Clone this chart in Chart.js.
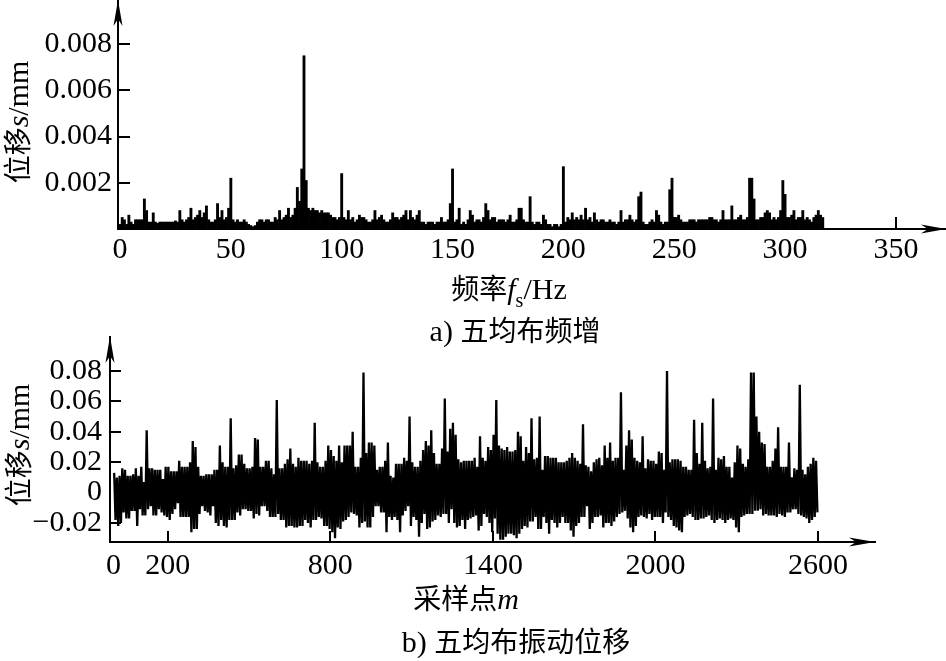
<!DOCTYPE html>
<html lang="zh-CN">
<head>
    <meta charset="UTF-8">
    <title>五均布频谱与振动位移</title>
    <script src="https://cdn.jsdelivr.net/npm/chart.js"></script>
    <style>
        body {
            margin: 0;
            background: #fff;
        }
        #wrap {
            position: relative;
            width: 946px;
            height: 661px;
            overflow: hidden;
        }
        canvas {
            position: absolute;
            left: 0;
        }
        .lbl {
            position: absolute;
            font-family: "Noto Sans CJK SC", sans-serif;
            font-size: 28px;
            line-height: 1;
            color: #000;
            white-space: nowrap;
            transform: translate(-50%, -50%);
        }
        .vert {
            transform: translate(-50%, -50%) rotate(-90deg);
        }
        .rm {
            font-family: "Liberation Serif", serif;
            font-size: 30px;
        }
        .it {
            font-family: "Liberation Serif", serif;
            font-style: italic;
            font-size: 30px;
        }
        .sub {
            font-family: "Liberation Serif", serif;
            font-size: 20px;
            position: relative;
            top: 8px;
        }
    </style>
</head>
<body>
    <div id="wrap">
        <canvas id="specChart" width="946" height="300" style="top:0"></canvas>
        <canvas id="dispChart" width="946" height="290" style="top:330px"></canvas>

        <div class="lbl vert" style="left:17px;top:122px">位移<span class="it">s</span><span class="rm">/mm</span></div>
        <div class="lbl" style="left:509px;top:288px">频率<span class="it">f</span><span class="sub">s</span><span class="rm">/Hz</span></div>
        <div class="lbl" style="left:515px;top:330px"><span class="rm">a) </span>五均布频增</div>

        <div class="lbl vert" style="left:18px;top:445px">位移<span class="it">s</span><span class="rm">/mm</span></div>
        <div class="lbl" style="left:466px;top:598px">采样点<span class="it">m</span></div>
        <div class="lbl" style="left:516px;top:641px"><span class="rm">b) </span>五均布振动位移</div>
    </div>

    <script>
        // a) 频谱: 1 Hz 一个值, 从 0 Hz 开始 (mm)
        const freqStepHz = 1;
        const specAmp = [
            0.0002, 0.0005, 0.0004, 0.0002, 0.0006, 0.0003, 0.0002, 0.0004, 0.0004, 0.0004,
            0.0004, 0.0013, 0.0008, 0.0003, 0.0003, 0.0007, 0.0003, 0.00025, 0.0003, 0.0003,
            0.0003, 0.0003, 0.0003, 0.0003, 0.0003, 0.00035, 0.0003, 0.0008, 0.0004, 0.0003,
            0.0004, 0.0005, 0.0009, 0.0004, 0.0005, 0.0006, 0.0008, 0.0005, 0.0007, 0.0010,
            0.0004, 0.0003, 0.0003, 0.0004, 0.0011, 0.0005, 0.0008, 0.0004, 0.0005, 0.0009,
            0.0022, 0.0004, 0.0003, 0.0004, 0.0003, 0.0003, 0.0004, 0.0003, 0.0002, 0.00015,
            0.0001, 0.00015, 0.0003, 0.0004, 0.0004, 0.0003, 0.0004, 0.0004, 0.0003, 0.0003,
            0.0005, 0.0004, 0.0008, 0.0004, 0.0005, 0.0006, 0.0009, 0.0005, 0.0006, 0.0009,
            0.0018, 0.0012, 0.0026, 0.0075, 0.0021, 0.0009, 0.0008, 0.0009, 0.0008, 0.0008,
            0.0007, 0.0008, 0.0007, 0.0007, 0.0007, 0.0006, 0.0005, 0.0005, 0.0004, 0.0005,
            0.0024, 0.0005, 0.0004, 0.0008, 0.0004, 0.0005, 0.0003, 0.0004, 0.0006, 0.0005,
            0.0005, 0.0004, 0.0003, 0.0003, 0.0004, 0.0008, 0.0004, 0.0005, 0.0006, 0.0004,
            0.0003, 0.0003, 0.0004, 0.0007, 0.0005, 0.0005, 0.0004, 0.0005, 0.0006, 0.0008,
            0.0004, 0.0008, 0.0005, 0.0004, 0.0006, 0.0008, 0.0003, 0.0003, 0.0002, 0.0003,
            0.0003, 0.0003, 0.0002, 0.0003, 0.0003, 0.0005, 0.0003, 0.0003, 0.0004, 0.0011,
            0.0026, 0.0003, 0.0004, 0.0009, 0.0002, 0.0003, 0.0002, 0.0004, 0.0008, 0.0006,
            0.0003, 0.0004, 0.0004, 0.0003, 0.0005, 0.0011, 0.0008, 0.0004, 0.0005, 0.0005,
            0.0003, 0.0004, 0.0004, 0.0004, 0.0003, 0.0004, 0.0006, 0.0003, 0.0003, 0.0004,
            0.0009, 0.0009, 0.0004, 0.0003, 0.0003, 0.0014, 0.0003, 0.0002, 0.0003, 0.0003,
            0.0002, 0.0006, 0.0004, 0.0002, 0.0002, 0.0001, 0.0002, 0.0002, 0.0001, 0.0002,
            0.0027, 0.0003, 0.0005, 0.0004, 0.0007, 0.0004, 0.0005, 0.0004, 0.0006, 0.0004,
            0.0009, 0.0004, 0.0005, 0.0003, 0.0007, 0.0004, 0.0003, 0.0004, 0.0004, 0.0003,
            0.0003, 0.0004, 0.0003, 0.0003, 0.0002, 0.0003, 0.0008, 0.0003, 0.0004, 0.0004,
            0.0006, 0.0004, 0.0003, 0.0004, 0.0014, 0.0016, 0.0003, 0.0002, 0.0002, 0.0003,
            0.0004, 0.0003, 0.0008, 0.0006, 0.0003, 0.0002, 0.0003, 0.0003, 0.0017, 0.0022,
            0.0004, 0.0005, 0.0006, 0.0004, 0.0003, 0.0003, 0.0003, 0.0004, 0.0004, 0.0004,
            0.0003, 0.0004, 0.0004, 0.0004, 0.0004, 0.0004, 0.0005, 0.0005, 0.0004, 0.0004,
            0.0003, 0.0004, 0.0008, 0.0004, 0.0004, 0.0004, 0.0010, 0.0004, 0.0004, 0.0005,
            0.0006, 0.0004, 0.0004, 0.0005, 0.0022, 0.0022, 0.0013, 0.0004, 0.0004, 0.0005,
            0.0005, 0.0007, 0.0008, 0.0007, 0.0004, 0.0005, 0.0004, 0.0005, 0.0008, 0.0021,
            0.0015, 0.0005, 0.0005, 0.0006, 0.0008, 0.0004, 0.0005, 0.0005, 0.0008, 0.0004,
            0.0005, 0.0004, 0.0003, 0.0005, 0.0006, 0.0008, 0.0006, 0.0005
        ];
        const specFreqTicks = [0, 50, 100, 150, 200, 250, 300, 350];
        const specAmpTicks = [0.002, 0.004, 0.006, 0.008];

        // b) 振动位移: 每 10 个采样点取上下包络 (mm)
        const binSize = 10;
        const dispHigh = [
            0.013, 0.010, 0.011, 0.016, 0.015, 0.011, 0.011, 0.012, 0.016, 0.011,
            0.017, 0.007, 0.041, 0.016, 0.016, 0.015, 0.015, 0.015, 0.009, 0.017,
            0.017, 0.014, 0.014, 0.014, 0.021, 0.017, 0.017, 0.017, 0.020, 0.034,
            0.030, 0.017, 0.011, 0.011, 0.012, 0.012, 0.012, 0.015, 0.015, 0.031,
            0.020, 0.017, 0.017, 0.049, 0.016, 0.018, 0.025, 0.025, 0.019, 0.016,
            0.016, 0.017, 0.036, 0.035, 0.017, 0.017, 0.021, 0.021, 0.016, 0.012,
            0.061, 0.016, 0.016, 0.019, 0.022, 0.029, 0.019, 0.017, 0.023, 0.021,
            0.021, 0.021, 0.019, 0.021, 0.046, 0.020, 0.017, 0.017, 0.021, 0.031,
            0.028, 0.024, 0.021, 0.031, 0.020, 0.031, 0.031, 0.031, 0.040, 0.017,
            0.017, 0.023, 0.079, 0.026, 0.033, 0.033, 0.031, 0.015, 0.017, 0.017,
            0.021, 0.033, 0.011, 0.010, 0.019, 0.019, 0.019, 0.023, 0.021, 0.050,
            0.020, 0.017, 0.017, 0.021, 0.028, 0.034, 0.031, 0.041, 0.026, 0.019,
            0.019, 0.029, 0.062, 0.027, 0.042, 0.046, 0.038, 0.022, 0.020, 0.021,
            0.021, 0.021, 0.021, 0.023, 0.017, 0.037, 0.023, 0.021, 0.030, 0.028,
            0.038, 0.061, 0.031, 0.029, 0.028, 0.030, 0.027, 0.027, 0.028, 0.040,
            0.037, 0.021, 0.030, 0.026, 0.049, 0.022, 0.023, 0.050, 0.015, 0.024,
            0.024, 0.023, 0.023, 0.023, 0.020, 0.020, 0.020, 0.021, 0.023, 0.026,
            0.023, 0.021, 0.019, 0.045, 0.018, 0.017, 0.014, 0.020, 0.022, 0.023,
            0.018, 0.031, 0.023, 0.033, 0.021, 0.023, 0.023, 0.066, 0.015, 0.031,
            0.041, 0.035, 0.023, 0.021, 0.020, 0.037, 0.016, 0.022, 0.021, 0.021,
            0.019, 0.027, 0.026, 0.015, 0.080, 0.020, 0.022, 0.022, 0.022, 0.021,
            0.017, 0.017, 0.015, 0.015, 0.048, 0.026, 0.019, 0.046, 0.021, 0.016,
            0.017, 0.062, 0.015, 0.023, 0.022, 0.024, 0.017, 0.017, 0.010, 0.020,
            0.031, 0.029, 0.019, 0.017, 0.022, 0.079, 0.079, 0.050, 0.040, 0.033,
            0.032, 0.017, 0.017, 0.021, 0.029, 0.043, 0.017, 0.017, 0.017, 0.033,
            0.010, 0.016, 0.015, 0.071, 0.015, 0.012, 0.017, 0.019, 0.023, 0.021
        ];
        const dispLow = [
            -0.018, -0.022, -0.020, -0.013, -0.017, -0.017, -0.012, -0.012, -0.022, -0.011,
            -0.015, -0.015, -0.011, -0.009, -0.015, -0.015, -0.011, -0.013, -0.015, -0.016,
            -0.018, -0.014, -0.011, -0.007, -0.016, -0.016, -0.016, -0.016, -0.026, -0.024,
            -0.024, -0.014, -0.009, -0.012, -0.013, -0.015, -0.009, -0.020, -0.022, -0.018,
            -0.022, -0.023, -0.018, -0.018, -0.018, -0.013, -0.015, -0.011, -0.011, -0.012,
            -0.012, -0.017, -0.014, -0.015, -0.009, -0.009, -0.012, -0.016, -0.016, -0.016,
            -0.014, -0.018, -0.018, -0.023, -0.022, -0.022, -0.023, -0.023, -0.022, -0.022,
            -0.018, -0.020, -0.023, -0.018, -0.018, -0.016, -0.017, -0.022, -0.022, -0.024,
            -0.026, -0.030, -0.023, -0.024, -0.019, -0.018, -0.016, -0.013, -0.014, -0.015,
            -0.023, -0.020, -0.019, -0.023, -0.023, -0.016, -0.009, -0.009, -0.013, -0.013,
            -0.026, -0.016, -0.018, -0.016, -0.018, -0.026, -0.015, -0.012, -0.009, -0.022,
            -0.016, -0.018, -0.029, -0.020, -0.014, -0.024, -0.023, -0.019, -0.018, -0.015,
            -0.016, -0.014, -0.014, -0.020, -0.011, -0.020, -0.023, -0.022, -0.018, -0.024,
            -0.018, -0.017, -0.016, -0.015, -0.025, -0.022, -0.014, -0.016, -0.020, -0.026,
            -0.017, -0.027, -0.031, -0.031, -0.029, -0.027, -0.027, -0.028, -0.030, -0.027,
            -0.024, -0.022, -0.023, -0.019, -0.019, -0.016, -0.024, -0.024, -0.016, -0.020,
            -0.027, -0.018, -0.020, -0.023, -0.020, -0.016, -0.020, -0.020, -0.025, -0.029,
            -0.022, -0.020, -0.016, -0.016, -0.009, -0.024, -0.020, -0.016, -0.016, -0.015,
            -0.023, -0.020, -0.020, -0.022, -0.019, -0.016, -0.014, -0.013, -0.012, -0.017,
            -0.023, -0.026, -0.022, -0.016, -0.015, -0.016, -0.017, -0.014, -0.018, -0.016,
            -0.016, -0.016, -0.020, -0.013, -0.016, -0.018, -0.022, -0.023, -0.025, -0.026,
            -0.016, -0.015, -0.014, -0.016, -0.018, -0.018, -0.017, -0.017, -0.016, -0.015,
            -0.018, -0.020, -0.018, -0.017, -0.018, -0.020, -0.018, -0.017, -0.018, -0.023,
            -0.026, -0.016, -0.015, -0.014, -0.014, -0.014, -0.012, -0.012, -0.011, -0.015,
            -0.014, -0.015, -0.015, -0.015, -0.016, -0.014, -0.015, -0.016, -0.013, -0.013,
            -0.011, -0.011, -0.014, -0.015, -0.016, -0.017, -0.020, -0.018, -0.016, -0.013
        ];
        const dispSampleTicks = [0, 200, 800, 1400, 2000, 2600];
        const dispTicks = [-0.02, 0, 0.02, 0.04, 0.06, 0.08];

        Chart.defaults.font.family = '"Liberation Serif", serif';
        Chart.defaults.color = '#000';

        // 坐标轴内侧刻度 + 箭头
        const axisDeco = {
            id: 'axisDeco',
            afterDraw(chart, args, opts) {
                const {ctx, chartArea: a, scales: {x, y}} = chart;
                ctx.save();
                ctx.strokeStyle = '#000';
                ctx.lineWidth = 2;
                ctx.beginPath();
                x.ticks.forEach(t => {
                    if (t.value === 0) return;
                    const px = Math.round(x.getPixelForValue(t.value));
                    ctx.moveTo(px, a.bottom);
                    ctx.lineTo(px, a.bottom - opts.tick);
                });
                y.ticks.forEach(t => {
                    if (t.value === 0) return;
                    const py = Math.round(y.getPixelForValue(t.value));
                    ctx.moveTo(a.left, py);
                    ctx.lineTo(a.left + opts.tick, py);
                });
                ctx.stroke();

                ctx.fillStyle = '#000';
                const L = opts.arrow, W = 4.5;
                // y 轴箭头
                ctx.beginPath();
                ctx.moveTo(a.left, a.top - 1);
                ctx.lineTo(a.left - W, a.top + L);
                ctx.lineTo(a.left, a.top + L - 7);
                ctx.lineTo(a.left + W, a.top + L);
                ctx.closePath();
                ctx.fill();
                // x 轴箭头
                ctx.beginPath();
                ctx.moveTo(a.right, a.bottom);
                ctx.lineTo(a.right - L, a.bottom - W);
                ctx.lineTo(a.right - L + 7, a.bottom);
                ctx.lineTo(a.right - L, a.bottom + W);
                ctx.closePath();
                ctx.fill();
                ctx.restore();
            }
        };

        const tickFont = {size: 30, family: '"Liberation Serif", serif'};

        // 固定坐标轴宽高, 去掉 Chart.js 为首末标签自动加的边距
        function fixHeight(h) {
            return s => { s.height = h; s.paddingLeft = 0; s.paddingRight = 0; };
        }
        function fixWidth(w) {
            return s => { s.width = w; s.paddingTop = 0; s.paddingBottom = 0; };
        }

        // a) 频谱
        new Chart(document.getElementById('specChart'), {
            type: 'bar',
            data: {
                datasets: [{
                    data: specAmp.map((v, i) => ({x: i * freqStepHz, y: v})),
                    backgroundColor: '#000',
                    borderWidth: 0,
                    barPercentage: 1,
                    categoryPercentage: 1
                }]
            },
            options: {
                responsive: false,
                animation: false,
                layout: {padding: {top: 1, right: 0, left: 0, bottom: 0}},
                plugins: {
                    legend: {display: false},
                    tooltip: {enabled: false},
                    axisDeco: {tick: 12, arrow: 25}
                },
                scales: {
                    x: {
                        type: 'linear',
                        offset: false,
                        min: -0.9,
                        max: 372.6,
                        afterBuildTicks: s => { s.ticks = specFreqTicks.map(v => ({value: v})); },
                        afterFit: fixHeight(71),
                        grid: {drawOnChartArea: false, drawTicks: false},
                        border: {color: '#000', width: 2},
                        ticks: {font: tickFont, color: '#000', padding: 3, maxRotation: 0, autoSkip: false,
                            callback: v => String(v)}
                    },
                    y: {
                        min: 0,
                        max: 0.00987,
                        afterBuildTicks: s => { s.ticks = specAmpTicks.map(v => ({value: v})); },
                        afterFit: fixWidth(118),
                        grid: {drawOnChartArea: false, drawTicks: false},
                        border: {color: '#000', width: 2},
                        ticks: {font: tickFont, color: '#000', padding: 6, autoSkip: false,
                            callback: v => v.toFixed(3)}
                    }
                }
            },
            plugins: [axisDeco]
        });

        // b) 振动位移
        const dispPoints = [];
        dispHigh.forEach((hi, b) => {
            dispPoints.push({x: b * binSize + 2.5, y: hi});
            dispPoints.push({x: b * binSize + 7.5, y: dispLow[b]});
        });

        new Chart(document.getElementById('dispChart'), {
            type: 'line',
            data: {
                datasets: [{
                    data: dispPoints,
                    borderColor: '#000',
                    borderWidth: 2.3,
                    pointRadius: 0,
                    tension: 0,
                    fill: false
                }]
            },
            options: {
                responsive: false,
                animation: false,
                layout: {padding: {top: 7, right: 71, left: 0, bottom: 0}},
                plugins: {
                    legend: {display: false},
                    tooltip: {enabled: false},
                    axisDeco: {tick: 11, arrow: 26}
                },
                scales: {
                    x: {
                        type: 'linear',
                        min: -12.9,
                        max: 2810,
                        afterBuildTicks: s => { s.ticks = dispSampleTicks.map(v => ({value: v})); },
                        afterFit: fixHeight(78),
                        grid: {drawOnChartArea: false, drawTicks: false},
                        border: {color: '#000', width: 2},
                        ticks: {font: tickFont, color: '#000', padding: 6, maxRotation: 0, autoSkip: false,
                            callback: v => String(v)}
                    },
                    y: {
                        min: -0.0325,
                        max: 0.1024,
                        afterBuildTicks: s => { s.ticks = dispTicks.map(v => ({value: v})); },
                        afterFit: fixWidth(110),
                        grid: {drawOnChartArea: false, drawTicks: false},
                        border: {color: '#000', width: 2},
                        ticks: {font: tickFont, color: '#000', padding: 8, autoSkip: false,
                            callback: v => v === 0 ? '0' : (v < 0 ? '\u2212' : '') + Math.abs(v).toFixed(2)}
                    }
                }
            },
            plugins: [axisDeco]
        });
    </script>
</body>
</html>
